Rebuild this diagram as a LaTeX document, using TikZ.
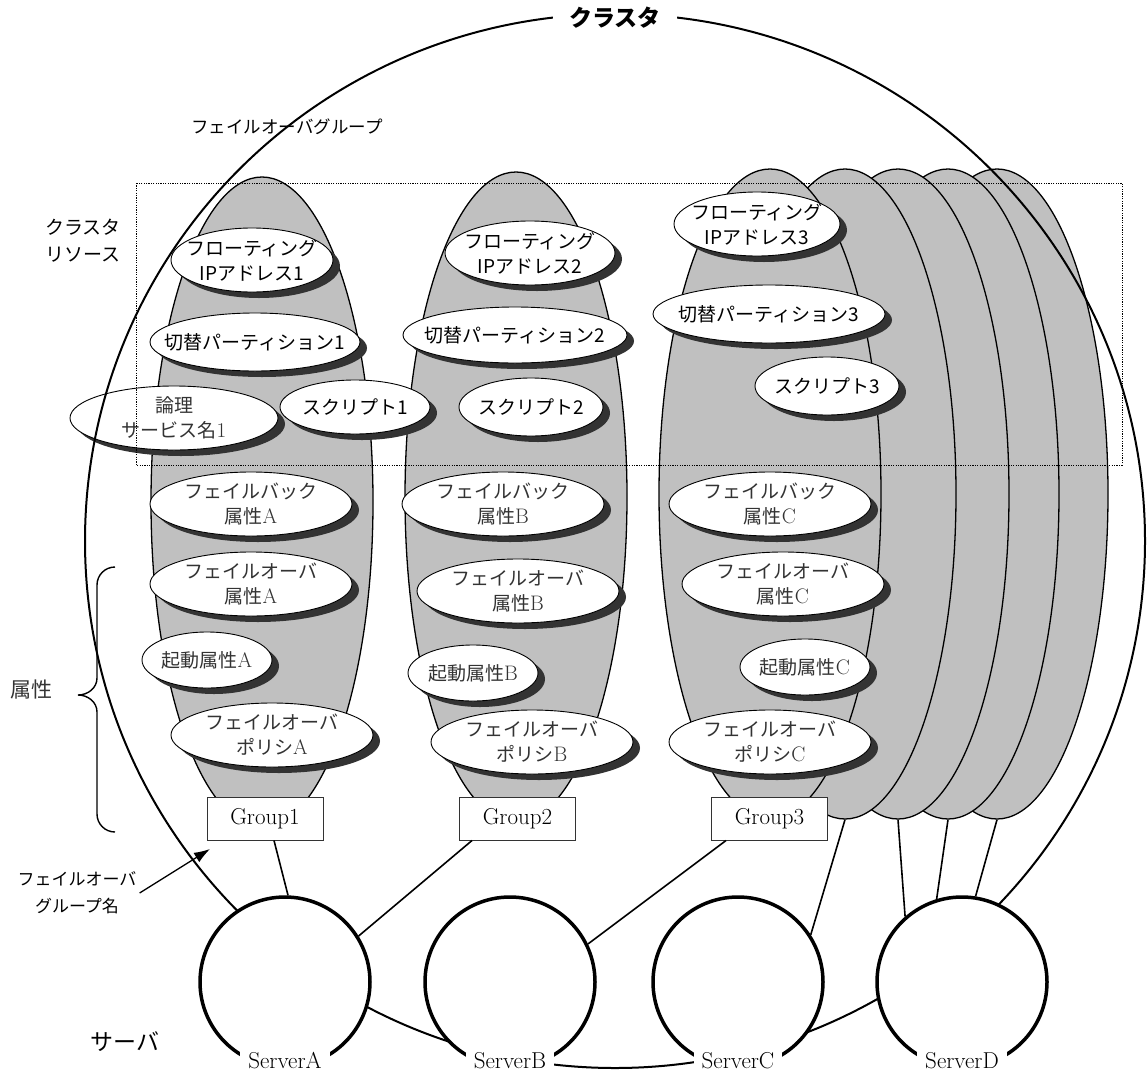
\documentclass[tikz,border=0pt]{standalone}
\usepackage{fontspec}
\newfontfamily\jp{Noto Sans CJK JP}
\newcommand\latn[1]{{\fontsize{21}{25}\selectfont #1}}
\usetikzlibrary{shapes.geometric,shadows,arrows.meta}
\definecolor{grpfill}{HTML}{C0C0C0}
\definecolor{shd}{HTML}{333333}
\definecolor{txg}{HTML}{333333}
\begin{document}
\begin{tikzpicture}[x=1pt,y=-1pt,
  grpell/.style={ellipse, draw=black, line width=1.3pt, fill=grpfill, minimum width=222pt, minimum height=650pt, inner sep=0pt},
  labell/.style 2 args={ellipse, draw=black, line width=0.9pt, fill=white, inner sep=0pt, minimum width=#1, minimum height=#2,
     drop shadow={shadow xshift=7pt, shadow yshift=-6pt, fill=shd, opacity=1}},
  sanst/.style={font=\jp\fontsize{19}{25}\selectfont, align=center, inner sep=0pt},
  sert/.style={font=\fontsize{19}{25}\selectfont, text=txg, align=center, inner sep=0pt},
  gbox/.style={rectangle, draw=black!80, line width=1pt, fill=white, minimum width=116pt, minimum height=43pt, inner sep=0pt, font=\fontsize{23}{27}\selectfont},
  srv/.style={circle, draw=black, line width=3.5pt, fill=white, minimum size=170pt, inner sep=0pt},
  srvlab/.style={fill=white, inner xsep=8pt, inner ysep=4pt, font=\fontsize{23}{27}\selectfont},
  conn/.style={draw=black, line width=1.6pt},
  plain/.style={inner sep=0pt, align=center}
]
\fill[white] (0,0) rectangle (1148,1071);
\useasboundingbox (0,0) rectangle (1148,1071);

% failover group ellipses
\node[grpell] (e4) at (997,494) {};
\node[grpell] (e3) at (948,494) {};
\node[grpell] (e2) at (898,494) {};
\node[grpell] (e1) at (845,494) {};
\node[grpell] (g3) at (770,494) {};
\node[grpell] (g2) at (516,497) {};
\node[grpell] (g1) at (262,502) {};

% resource / attribute ellipses
\node[labell={162pt}{64pt}, label={[sanst]center:{フローティング\\IPアドレス1}}] (fip1) at (252,260) {};
\node[labell={210pt}{58pt}, label={[sanst]center:{切替パーティション1}}] (part1) at (255,342) {};
\node[labell={208pt}{64pt}, label={[sert]center:{{\jp 論理}\\{\jp サービス名}\latn{1}}}] (lsn1) at (174,418) {};
\node[labell={150pt}{54pt}, label={[sanst]center:{スクリプト1}}] (scr1) at (355,407) {};
\node[labell={170pt}{64pt}, label={[sanst]center:{フローティング\\IPアドレス2}}] (fip2) at (530,253) {};
\node[labell={224pt}{56pt}, label={[sanst]center:{切替パーティション2}}] (part2) at (515,335) {};
\node[labell={144pt}{58pt}, label={[sanst]center:{スクリプト2}}] (scr2) at (531,407) {};
\node[labell={166pt}{64pt}, label={[sanst]center:{フローティング\\IPアドレス3}}] (fip3) at (757,224) {};
\node[labell={232pt}{58pt}, label={[sanst]center:{切替パーティション3}}] (part3) at (769,314) {};
\node[labell={144pt}{58pt}, label={[sanst]center:{スクリプト3}}] (scr3) at (827,386) {};

\node[labell={202pt}{64pt}, label={[sert]center:{{\jp フェイルバック}\\{\jp 属性}\latn{A}}}] (fbA) at (251,504) {};
\node[labell={202pt}{64pt}, label={[sert]center:{{\jp フェイルオーバ}\\{\jp 属性}\latn{A}}}] (foA) at (251,584) {};
\node[labell={130pt}{56pt}, label={[sert]center:{{\jp 起動属性}\latn{A}}}] (kdA) at (207,660) {};
\node[labell={202pt}{64pt}, label={[sert]center:{{\jp フェイルオーバ}\\{\jp ポリシ}\latn{A}}}] (fpA) at (272,735) {};

\node[labell={202pt}{64pt}, label={[sert]center:{{\jp フェイルバック}\\{\jp 属性}\latn{B}}}] (fbB) at (503,504) {};
\node[labell={202pt}{64pt}, label={[sert]center:{{\jp フェイルオーバ}\\{\jp 属性}\latn{B}}}] (foB) at (518,591) {};
\node[labell={130pt}{56pt}, label={[sert]center:{{\jp 起動属性}\latn{B}}}] (kdB) at (473,673) {};
\node[labell={202pt}{64pt}, label={[sert]center:{{\jp フェイルオーバ}\\{\jp ポリシ}\latn{B}}}] (fpB) at (532,742) {};

\node[labell={202pt}{64pt}, label={[sert]center:{{\jp フェイルバック}\\{\jp 属性}\latn{C}}}] (fbC) at (770,504) {};
\node[labell={202pt}{64pt}, label={[sert]center:{{\jp フェイルオーバ}\\{\jp 属性}\latn{C}}}] (foC) at (783,584) {};
\node[labell={130pt}{56pt}, label={[sert]center:{{\jp 起動属性}\latn{C}}}] (kdC) at (805,667) {};
\node[labell={202pt}{64pt}, label={[sert]center:{{\jp フェイルオーバ}\\{\jp ポリシ}\latn{C}}}] (fpC) at (770,742) {};

% cluster resource dotted frame
\draw[line width=0.9pt, dash pattern=on 1.2pt off 1.2pt] (136,183) rectangle (1122,465);

% cluster ellipse
\node[ellipse, draw=black, line width=2pt, minimum width=1060pt, minimum height=1054pt, inner sep=0pt] (cl) at (615,541) {};

% group name boxes
\node[gbox] (g1box) at (265,818.5) {Group1};
\node[gbox] (g2box) at (517.5,818.5) {Group2};
\node[gbox] (g3box) at (769.5,818.5) {Group3};

% servers
\node[srv] (sA) at (285,982) {};
\node[srv] (sB) at (510,982) {};
\node[srv] (sC) at (738,982) {};
\node[srv] (sD) at (962,982) {};

% connectors
\draw[conn] ([xshift=9pt]g1box.south) -- (sA.88);
\draw[conn] ([xshift=13pt]g2box.south west) -- (sA.32);
\draw[conn] ([xshift=15pt]g3box.south west) -- (sB.26);
\draw[conn] (e1.south) -- (sC.33);
\draw[conn] (e2.south) -- (sD.131);
\draw[conn] (e3.south) -- (sD.107);
\draw[conn] (e4.south) -- (sD.81);

% server labels
\node[srvlab] (lA) at ([yshift=8pt]sA.south) {ServerA};
\node[srvlab] (lB) at ([yshift=8pt]sB.south) {ServerB};
\node[srvlab] (lC) at ([yshift=8pt]sC.south) {ServerC};
\node[srvlab] (lD) at ([yshift=8pt]sD.south) {ServerD};

% title
\node[fill=white, inner xsep=16pt, inner ysep=3pt, font=\jp\bfseries\fontsize{23}{28}\selectfont] (ttl) at ([yshift=-5pt]cl.north) {クラスタ};

% side labels
\node[plain, font=\jp\fontsize{17.5}{20}\selectfont] (fog) at (287,127) {フェイルオーバグループ};
\node[plain, font=\jp\fontsize{19}{27}\selectfont] (cr) at (83,241) {クラスタ\\リソース};
\node[plain, text=txg, font=\jp\fontsize{21}{25}\selectfont] (zk) at (31,690) {属性};
\node[plain, font=\jp\fontsize{17}{27}\selectfont] (fgn) at (77,893) {フェイルオーバ\\グループ名};
\node[plain, font=\jp\fontsize{23}{27}\selectfont] (sv) at (125,1042) {サーバ};

% brace
\draw[line width=1.4pt] (115,567) to[out=180,in=90] (97,585) -- (97,678) to[out=-90,in=0] (78,695)
   to[out=0,in=90] (97,712) -- (97,814) to[out=-90,in=180] (115,832);

% arrow to group name
\coordinate (arrtip) at (210,849);
\draw[line width=1.3pt, -{Latex[length=16pt,width=11pt]}] ([xshift=3pt]fgn.east) -- (arrtip);
\end{tikzpicture}
\end{document}
